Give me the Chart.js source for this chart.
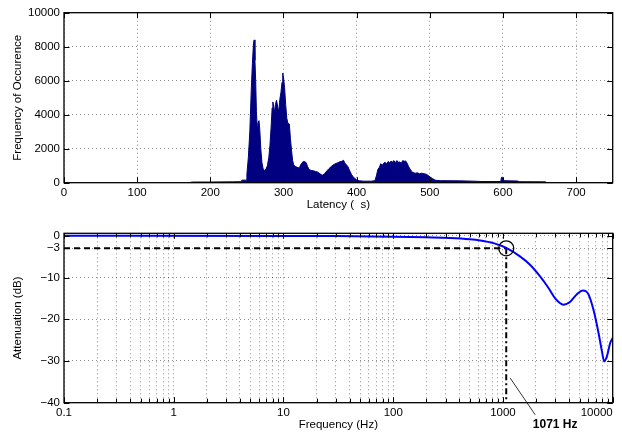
<!DOCTYPE html>
<html>
<head>
<meta charset="utf-8">
<script src="https://cdn.jsdelivr.net/npm/chart.js@4.4.0/dist/chart.umd.min.js"></script>
<style>
  body { margin: 0; background: #fff; }
  .panel { position: absolute; left: 0; width: 622px; height: 216px; }
</style>
</head>
<body>
<div class="panel" style="top:0"><canvas id="histCanvas" width="622" height="216"></canvas></div>
<div class="panel" style="top:216px"><canvas id="filterCanvas" width="622" height="216"></canvas></div>
<script>
// latency histogram
const latencyUs = [170, 176, 200, 230, 242, 243, 249, 250, 252, 254, 256, 257.5, 259, 260, 261, 262, 263, 264, 265, 266.5, 267.5, 269, 270.5, 272, 274, 276, 278, 280, 281.5, 283, 284.5, 285.5, 286.5, 287.5, 289, 290.5, 292, 293.5, 295, 296.5, 298, 299, 300, 301.5, 303, 304.5, 306, 308, 309.5, 311, 312.5, 314, 316, 318, 320, 322, 323.5, 325, 327, 329, 331, 333, 335, 338, 341, 344, 347, 350, 353, 356, 359, 362, 366, 370, 374, 377, 380, 382, 384, 386, 388, 390, 393, 396, 400, 404, 410, 420, 425, 427, 429, 431, 433, 435, 437, 439, 441, 443, 445, 447, 449, 451, 453, 455, 457, 459, 461, 463, 465, 467, 469, 471, 473, 475, 477, 480, 483, 486, 489, 492, 495, 498, 501, 504, 508, 515, 540, 560, 570, 597, 598, 599, 600, 620, 622, 658, 660, 750];
const occurrences = [0, 40, 40, 50, 60, 150, 150, 500, 1500, 3000, 5500, 7000, 8200, 8400, 7200, 6000, 4200, 3300, 3500, 3650, 3200, 2000, 1200, 850, 700, 800, 1000, 1500, 2200, 3200, 4400, 4750, 4500, 4100, 4600, 4850, 4500, 4150, 4900, 5300, 5900, 6450, 6200, 5600, 4600, 3800, 3500, 3450, 2600, 1900, 1300, 1050, 950, 920, 880, 900, 1050, 1150, 1250, 1240, 1180, 950, 780, 720, 700, 660, 620, 520, 440, 520, 680, 820, 980, 1100, 1170, 1230, 1260, 1320, 1150, 1050, 950, 750, 480, 300, 170, 110, 90, 90, 120, 400, 780, 900, 1120, 1020, 1150, 1200, 1100, 1250, 1180, 1260, 1220, 1300, 1180, 1300, 1200, 1220, 1140, 1300, 1260, 1280, 1150, 950, 800, 680, 600, 560, 580, 530, 560, 530, 500, 420, 320, 230, 140, 120, 110, 90, 70, 70, 320, 300, 120, 100, 60, 50, 0, 0];

// filter response
const freqHz = [0.1, 10, 30, 100, 200, 331, 500, 621, 820, 1071, 1439, 1774, 2188, 2600, 2993, 3300, 3550, 3800, 4100, 4720, 5350, 5700, 6030, 6690, 7430, 7980, 8370, 8850, 9490, 10000];
const attenuationDb = [0, -0.02, -0.05, -0.2, -0.35, -0.5, -0.8, -1.1, -1.75, -2.9, -5, -7, -9.8, -12.5, -15, -16.1, -16.5, -16.3, -15.8, -14.0, -13.1, -13.3, -14.1, -17.8, -23.3, -27.7, -30.1, -28.9, -25.7, -24.5];

const cutoffHz = 1071;
const cutoffDb = -3;
const cutoffLabel = '1071 Hz';

// tick values
const latencyTicks = [0, 100, 200, 300, 400, 500, 600, 700];
const countTicks = [0, 2000, 4000, 6000, 8000, 10000];
const dbTicks = [-40, -30, -20, -10, -3, 0];
const freqDecades = [0.1, 1, 10, 100, 1000];
const freqMinor = [1, 2, 3, 4, 5, 6, 7, 8, 9];
const freqMajor = [0.1, 1, 10, 100, 1000, 10000];
const freqLabels = ['0.1', '1', '10', '100', '1000', '10000'];

const FONT = '"Liberation Sans", Arial, Helvetica, sans-serif';
Chart.defaults.font.family = FONT;
Chart.defaults.font.size = 11.5;
Chart.defaults.color = '#000';

const gridStyle = { color: 'rgba(0,0,0,0.45)', lineWidth: 1, drawTicks: false };
const borderStyle = { display: false, dash: [1, 3] };

const fixedTicks = values => scale => {
    scale.ticks = values.map(v => ({ value: v }));
};

// MATLAB style box with inward ticks
const framePlugin = {
    id: 'frame',
    afterDatasetsDraw(chart) {
        const { ctx, chartArea: a, scales } = chart;
        ctx.save();
        ctx.strokeStyle = '#000';
        ctx.lineWidth = 1;
        scales.x.ticks.forEach(t => {
            const px = Math.round(scales.x.getPixelForValue(t.value)) + 0.5;
            const len = t.minor ? 4 : 5.5;
            ctx.beginPath();
            ctx.moveTo(px, a.bottom); ctx.lineTo(px, a.bottom - len);
            ctx.moveTo(px, a.top); ctx.lineTo(px, a.top + len);
            ctx.stroke();
        });
        scales.y.ticks.forEach(t => {
            const py = Math.round(scales.y.getPixelForValue(t.value)) + 0.5;
            ctx.beginPath();
            ctx.moveTo(a.left, py); ctx.lineTo(a.left + 5.5, py);
            ctx.moveTo(a.right, py); ctx.lineTo(a.right - 5.5, py);
            ctx.stroke();
        });
        ctx.lineWidth = 1.3;
        ctx.strokeRect(a.left, a.top, a.right - a.left, a.bottom - a.top);
        ctx.restore();
    }
};

new Chart(document.getElementById('histCanvas').getContext('2d'), {
    type: 'line',
    data: {
        datasets: [{
            data: latencyUs.map((l, i) => ({ x: l, y: occurrences[i] })),
            borderColor: '#000080',
            backgroundColor: '#000080',
            borderWidth: 1,
            pointRadius: 0,
            tension: 0,
            fill: 'origin'
        }]
    },
    options: {
        responsive: false,
        animation: false,
        layout: { padding: { top: 12.7, right: 9.3, left: 0, bottom: 0 } },
        plugins: { legend: { display: false }, tooltip: { enabled: false } },
        scales: {
            x: {
                type: 'linear',
                min: 0,
                max: 750,
                grid: gridStyle,
                border: borderStyle,
                afterBuildTicks: fixedTicks(latencyTicks),
                afterFit: scale => { scale.height = 33.3; scale.paddingLeft = 0; scale.paddingRight = 0; },
                ticks: { padding: 3, maxRotation: 0, callback: v => String(v) },
                title: { display: true, text: 'Latency (  s)', padding: { top: 0, bottom: 4 } }
            },
            y: {
                min: 0,
                max: 10000,
                grid: gridStyle,
                border: borderStyle,
                afterBuildTicks: fixedTicks(countTicks),
                afterFit: scale => { scale.width = 64; },
                ticks: { padding: 4, callback: v => String(v) },
                title: { display: true, text: 'Frequency of Occurence', padding: { top: 11, bottom: 0 } }
            }
        }
    },
    plugins: [framePlugin]
});

const freqTicks = [];
freqDecades.forEach(d => freqMinor.forEach(m => freqTicks.push(d * m)));
freqTicks.push(10000);

const lastFreq = freqMajor[freqMajor.length - 1];

const annotationPlugin = {
    id: 'cutoffNote',
    afterDraw(chart) {
        const { ctx, scales: { x, y } } = chart;
        const x1 = x.getPixelForValue(1164), y1 = y.getPixelForValue(-34.1);
        const x2 = x.getPixelForValue(1968), y2 = y.getPixelForValue(-42.9);
        ctx.save();
        ctx.strokeStyle = '#000';
        ctx.lineWidth = 0.8;
        ctx.beginPath();
        ctx.moveTo(x1, y1);
        ctx.lineTo(x2, y2);
        ctx.stroke();
        ctx.fillStyle = '#000';
        ctx.textBaseline = 'middle';
        // last tick label sits flush with the right edge, as in the original
        ctx.font = '11.5px ' + FONT;
        ctx.textAlign = 'right';
        ctx.fillText(freqLabels[freqLabels.length - 1], x.getPixelForValue(lastFreq), x.top + 3 + 11.5 * 1.2 / 2);
        ctx.font = 'bold 12px ' + FONT;
        ctx.textAlign = 'center';
        ctx.fillText(cutoffLabel, x.getPixelForValue(2990), y.getPixelForValue(-45.2));
        ctx.restore();
    }
};

new Chart(document.getElementById('filterCanvas').getContext('2d'), {
    type: 'line',
    data: {
        datasets: [
            {
                data: [{ x: cutoffHz, y: cutoffDb }],
                showLine: false,
                pointRadius: 7.5,
                pointBorderWidth: 1.3,
                pointBorderColor: '#000',
                pointBackgroundColor: 'rgba(0,0,0,0)'
            },
            {
                data: freqHz.map((f, i) => ({ x: f, y: attenuationDb[i] })),
                borderColor: '#0000ff',
                borderWidth: 2,
                pointRadius: 0,
                cubicInterpolationMode: 'monotone',
                fill: false
            },
            {
                data: [{ x: freqHz[0], y: cutoffDb }, { x: cutoffHz, y: cutoffDb }],
                borderColor: '#000',
                borderWidth: 2,
                borderDash: [6, 4],
                pointRadius: 0,
                fill: false
            },
            {
                data: [{ x: cutoffHz, y: cutoffDb }, { x: cutoffHz, y: -40 }],
                borderColor: '#000',
                borderWidth: 2,
                borderDash: [6, 3, 2, 3],
                pointRadius: 0,
                fill: false
            }
        ]
    },
    options: {
        responsive: false,
        animation: false,
        layout: { padding: { top: 17.3, right: 9.3, left: 0, bottom: 0 } },
        plugins: { legend: { display: false }, tooltip: { enabled: false } },
        scales: {
            x: {
                type: 'logarithmic',
                min: 0.1,
                max: 10000,
                grid: gridStyle,
                border: borderStyle,
                afterBuildTicks: scale => {
                    scale.ticks = freqTicks.map(v => ({ value: v, minor: !freqMajor.includes(v) }));
                },
                afterFit: scale => { scale.height = 29.3; scale.paddingLeft = 0; scale.paddingRight = 0; },
                ticks: {
                    padding: 3,
                    autoSkip: false,
                    maxRotation: 0,
                    callback: function (v) {
                        const i = freqMajor.indexOf(v);
                        return i >= 0 && v !== lastFreq ? freqLabels[i] : '';
                    }
                },
                title: { display: true, text: 'Frequency (Hz)', padding: { top: 0, bottom: 0 } }
            },
            y: {
                min: -40,
                max: 0.6,
                grid: gridStyle,
                border: borderStyle,
                afterBuildTicks: fixedTicks(dbTicks),
                afterFit: scale => { scale.width = 64; },
                ticks: { padding: 4, callback: v => String(v).replace('-', '\u2212') },
                title: { display: true, text: 'Attenuation (dB)', padding: { top: 11, bottom: 0 } }
            }
        }
    },
    plugins: [framePlugin, annotationPlugin]
});
</script>
</body>
</html>
